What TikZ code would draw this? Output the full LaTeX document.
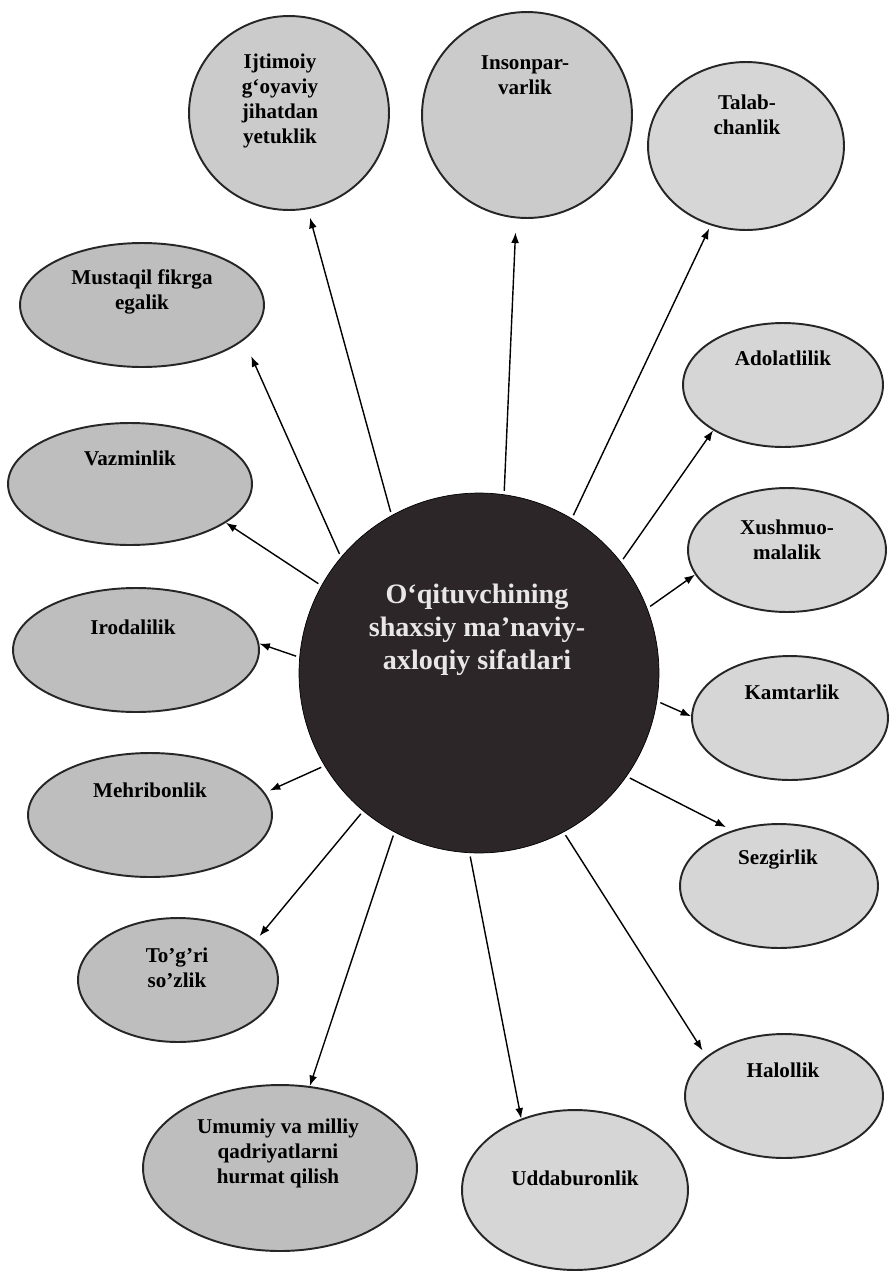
\documentclass[tikz,border=0pt]{standalone}
\usepackage{fontspec}
\setmainfont{Liberation Serif}
\usetikzlibrary{shapes.geometric}
\usetikzlibrary{arrows.meta}

\definecolor{hubfill}{HTML}{2C2628}
\definecolor{hubtext}{HTML}{E8E6E6}
\definecolor{leftgrey}{HTML}{BEBEBE}
\definecolor{rightgrey}{HTML}{D6D6D6}
\definecolor{topgrey}{HTML}{CBCBCB}

\tikzset{
	bub/.style = {ellipse, draw = black!85, line width = 1.1pt, inner sep = 0pt},
	bubL/.style = {bub, fill = leftgrey},
	bubR/.style = {bub, fill = rightgrey},
	bubT/.style = {bub, fill = topgrey},
	lbl/.style = {align = center, font = \bfseries\fontsize{12}{14.2}\selectfont},
	arr/.style = {black, line width = 0.8pt, -{Latex[length = 6pt, width = 4.5pt]}, shorten <= 2pt},
}

\begin{document}
\begin{tikzpicture}[x = 0.02cm, y = -0.02cm]
					\useasboundingbox (0, 0) rectangle (890, 1275);
					\node [circle, draw = black, fill = hubfill, minimum size = 7.2cm] (hub) at (479, 673) {};
					\node [align = center, text = hubtext, font = \bfseries\fontsize{16}{18.7}\selectfont] (hub-t) at (477, 630) {O‘qituvchining\\shaxsiy ma’naviy-\\axloqiy sifatlari};
					\node [bubT, minimum width = 4.0cm, minimum height = 3.88cm] (ijt) at (289, 113) {};
					\node [lbl] (ijt-t) at (280, 101) {Ijtimoiy\\g‘oyaviy\\jihatdan\\yetuklik};
					\node [bubT, minimum width = 4.2cm, minimum height = 4.12cm] (ins) at (527, 115) {};
					\node [lbl] (ins-t) at (525, 75) {Insonpar-\\varlik};
					\node [bubR, minimum width = 3.92cm, minimum height = 3.36cm] (tal) at (746, 146) {};
					\node [lbl] (tal-t) at (747, 115) {Talab-\\chanlik};
					\node [bubR, minimum width = 4.0cm, minimum height = 2.48cm] (adol) at (783, 385) {};
					\node [lbl] (adol-t) at (783, 358) {Adolatlilik};
					\node [bubR, minimum width = 3.96cm, minimum height = 2.48cm] (xush) at (787, 550) {};
					\node [lbl] (xush-t) at (787, 540) {Xushmuo-\\malalik};
					\node [bubR, minimum width = 3.92cm, minimum height = 2.48cm] (kamt) at (790, 718) {};
					\node [lbl] (kamt-t) at (792, 692) {Kamtarlik};
					\node [bubR, minimum width = 3.96cm, minimum height = 2.48cm] (sezg) at (779, 886) {};
					\node [lbl] (sezg-t) at (778, 860) {Sezgirlik};
					\node [bubR, minimum width = 3.96cm, minimum height = 2.48cm] (halo) at (784, 1096) {};
					\node [lbl] (halo-t) at (783, 1070) {Halollik};
					\node [bubR, minimum width = 4.52cm, minimum height = 3.2cm] (udda) at (575, 1190) {};
					\node [lbl] (udda-t) at (575, 1178) {Uddaburonlik};
					\node [bubL, minimum width = 5.48cm, minimum height = 3.32cm] (umum) at (280, 1168) {};
					\node [lbl] (umum-t) at (278, 1153) {Umumiy va milliy\\qadriyatlarni\\hurmat qilish};
					\node [bubL, minimum width = 4.0cm, minimum height = 2.48cm] (togri) at (178, 980) {};
					\node [lbl] (togri-t) at (177, 968) {To'g'ri\\so'zlik};
					\node [bubL, minimum width = 4.88cm, minimum height = 2.48cm] (mehr) at (150, 815) {};
					\node [lbl] (mehr-t) at (150, 790) {Mehribonlik};
					\node [bubL, minimum width = 4.92cm, minimum height = 2.48cm] (irod) at (136, 650) {};
					\node [lbl] (irod-t) at (133, 627) {Irodalilik};
					\node [bubL, minimum width = 4.88cm, minimum height = 2.44cm] (vazm) at (130, 484) {};
					\node [lbl] (vazm-t) at (130, 458) {Vazminlik};
					\node [bubL, minimum width = 4.88cm, minimum height = 2.48cm] (must) at (142, 305) {};
					\node [lbl] (must-t) at (142, 292) {Mustaqil fikrga\\egalik};
					\draw [arr, shorten >= 5pt] (hub.119) -- (ijt.-79);
					\draw [arr, shorten >= 8pt] (hub.82) -- (ins.-96);
					\draw [arr, shorten >= 2pt] (hub.59) -- (tal.-114);
					\draw [arr] (hub.38) -- (adol.-147);
					\draw [arr] (hub.21) -- (xush.-165);
					\draw [arr] (hub.-9) -- (kamt.179);
					\draw [arr, shorten >= 4pt] (hub.-35) -- (sezg.130);
					\draw [arr, shorten >= 4pt] (hub.-62) -- (halo.153);
					\draw [arr] (hub.-93) -- (udda.127);
					\draw [arr] (hub.-118) -- (umum.70);
					\draw [arr, shorten >= 3pt] (hub.-130) -- (togri.27);
					\draw [arr, shorten >= 3pt] (hub.-149) -- (mehr.11);
					\draw [arr] (hub.175) -- (irod.3);
					\draw [arr] (hub.151) -- (vazm.-22);
					\draw [arr, shorten >= 10pt] (hub.140) -- (must.-19);
				\end{tikzpicture}
\end{document}
